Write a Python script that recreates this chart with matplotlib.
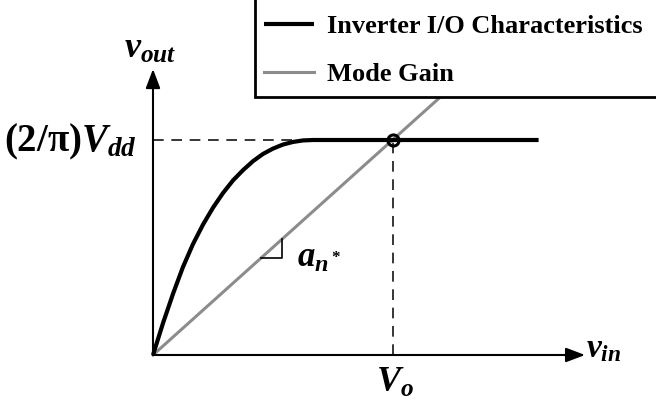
import matplotlib
matplotlib.use("Agg")
import matplotlib.pyplot as plt
from matplotlib.patches import Rectangle

plt.rcParams["mathtext.fontset"] = "custom"
plt.rcParams["mathtext.rm"] = "Liberation Serif:bold"
plt.rcParams["mathtext.it"] = "Liberation Serif:bold:italic"
plt.rcParams["mathtext.bf"] = "Liberation Serif:bold"
plt.rcParams["font.family"] = "Liberation Serif"

# Inverter I/O characteristic (v_in normalised to V_o, v_out normalised to (2/pi)Vdd)
vin_curve = [0.0, 0.042, 0.084, 0.125, 0.167, 0.209, 0.251, 0.292, 0.334,
             0.376, 0.418, 0.459, 0.501, 0.543, 0.585, 0.626, 0.668, 1.61]
vout_curve = [0.0, 0.149, 0.286, 0.409, 0.516, 0.607, 0.686, 0.753, 0.812,
              0.860, 0.902, 0.935, 0.960, 0.979, 0.991, 0.998, 1.0, 1.0]

# Mode gain line through the origin and the operating point
gain_x = [0.0, 1.3]
gain_y = [0.0, 1.3]

# Operating point
v_o = 1.0
v_sat = 1.0

legend_labels = ["Inverter I/O Characteristics", "Mode Gain"]

W, H = 656, 404
fig = plt.figure(figsize=(W / 100, H / 100), dpi=100)
ax = fig.add_axes([0, 0, 1, 1])
ox, oy = 153, 355          # origin in pixels
ux, uy = 239.5, 215.0      # pixels per unit
ax.set_xlim(-ox / ux, (W - ox) / ux)
ax.set_ylim(-(H - oy) / uy, oy / uy)
ax.axis("off")

# axes with arrows
arrow = dict(arrowstyle="-|>,head_length=0.58,head_width=0.22", lw=1.5,
             color="black", mutation_scale=20, shrinkA=0, shrinkB=0)
ax.annotate("", xy=(1.804, 0), xytext=(0, 0), arrowprops=arrow)
ax.annotate("", xy=(0, 1.33), xytext=(0, 0), arrowprops=arrow)

# guide lines to operating point
ax.plot([0, v_o], [v_sat, v_sat], color="black", lw=1.1, dashes=(7, 5))
ax.plot([v_o, v_o], [0, v_sat], color="black", lw=1.1, dashes=(7, 5))

l1, = ax.plot(vin_curve, vout_curve, color="black", lw=3.0,
              solid_capstyle="butt", solid_joinstyle="round", zorder=3,
              label=legend_labels[0])
l2, = ax.plot(gain_x, gain_y, color="#8c8c8c", lw=2.2, zorder=2,
              label=legend_labels[1])

# slope mark
ax.plot([0.45, 0.54, 0.54], [0.45, 0.45, 0.54], color="black", lw=1.2)

ax.plot([v_o], [v_sat], marker="o", ms=8, mfc="none", mec="black", mew=2.2,
        zorder=4)

ax.text(-0.01, 1.381, r"$v_{out}$", ha="center", va="baseline", fontsize=26)
ax.text(-0.067, 0.99, r"$\mathrm{(2/\pi)}V_{dd}$", ha="right", va="center",
        fontsize=28)
ax.text(1.01, -0.172, r"$V_o$", ha="center", va="baseline", fontsize=26)
ax.text(1.808, -0.01, r"$v_{in}$", ha="left", va="baseline", fontsize=24)
ax.text(0.601, 0.409, r"$a_{n^*}$", ha="left", va="baseline", fontsize=25)

# legend panel running off the top-right corner
panel = Rectangle((255 / W, 1 - 97 / H), (680 - 255) / W, (97 + 20) / H,
                  transform=fig.transFigure, facecolor="white",
                  edgecolor="black", lw=2.0, zorder=9, clip_on=False)
ax.add_patch(panel)

leg = ax.legend(handles=[l1, l2], loc="lower left",
                bbox_to_anchor=(255 / W, 1 - 95 / H), bbox_transform=fig.transFigure,
                prop=dict(family="Liberation Serif", weight="bold", size=19),
                frameon=False, borderpad=0.35, handlelength=1.9,
                labelspacing=0.93, handletextpad=0.49, borderaxespad=0)
leg.set_zorder(10)

fig.savefig("out.png", dpi=100)
